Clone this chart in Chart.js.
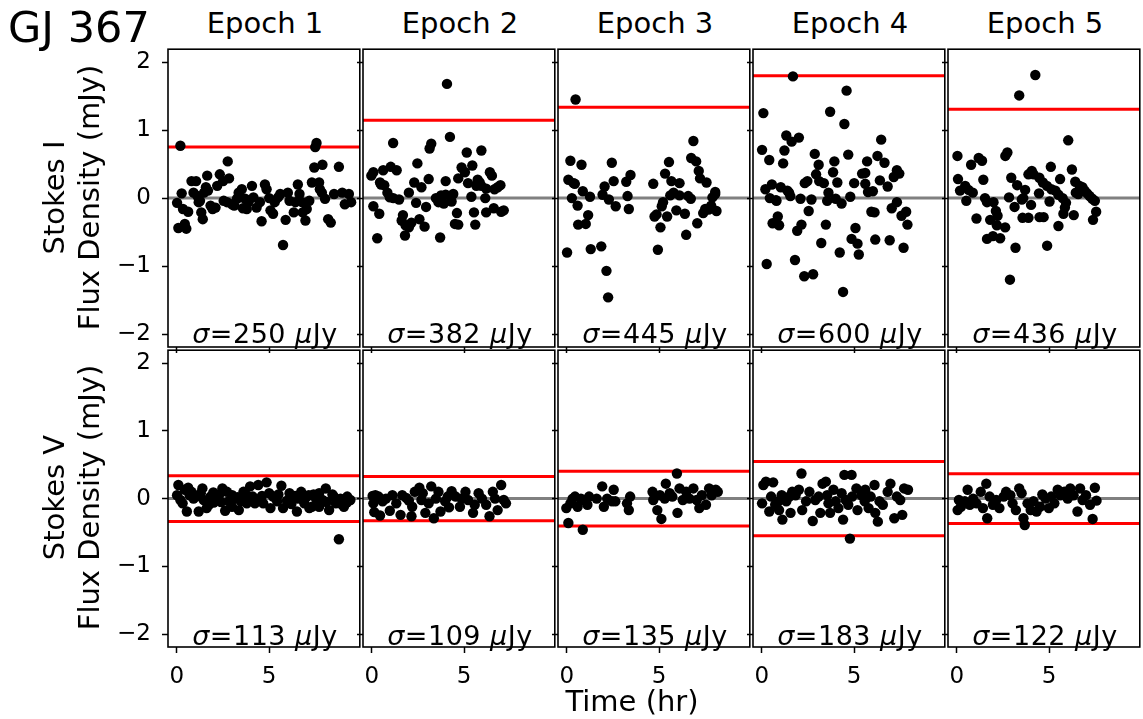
<!DOCTYPE html>
<html><head><meta charset="utf-8">
<script src="https://cdn.jsdelivr.net/npm/chart.js@4.4.0/dist/chart.umd.min.js"></script>
<style>
html,body{margin:0;padding:0;background:#fff;}
body{width:1143px;height:719px;overflow:hidden;position:relative;font-family:"DejaVu Sans";}
canvas{position:absolute;}
.t{position:absolute;white-space:nowrap;color:#000;line-height:1;font-family:"DejaVu Sans";}
.c{text-align:center;}
.rot{transform:rotate(-90deg);transform-origin:50% 50%;text-align:center;}
</style></head><body>
<script>
// ---- data ----
const epochs = ['Epoch 1','Epoch 2','Epoch 3','Epoch 4','Epoch 5'];
const sigmaI = [250, 382, 445, 600, 436];   // μJy
const sigmaV = [113, 109, 135, 183, 122];   // μJy
const limitI = [0.75, 1.146, 1.335, 1.80, 1.308];   // mJy (red line)
const limitV = [0.339, 0.327, 0.405, 0.549, 0.366]; // mJy (± red lines)
const yTicks = [-2, -1, 0, 1, 2];
const xTicks = [0, 5];
const xRange = [-0.47, 9.9];
const yRange = [-2.19, 2.19];

const e1I = [[0.20,0.77],[0.02,-0.07],[0.27,0.07],[0.09,-0.44],[0.52,-0.45],[0.44,-0.38],[0.34,-0.16],[0.62,-0.20],[0.80,0.25],[1.05,0.25],[0.91,0.08],[1.12,0.03],[1.26,-0.04],[1.19,-0.06],[1.33,-0.21],[1.41,-0.31],[1.65,0.33],[1.58,0.16],[1.69,0.11],[1.48,0.08],[1.94,-0.16],[2.10,-0.14],[2.33,0.35],[2.51,0.25],[2.76,0.54],[2.83,0.29],[2.19,0.18],[2.54,-0.04],[2.99,-0.09],[3.11,-0.11],[3.35,0.08],[3.52,0.13],[3.58,-0.15],[3.70,-0.01],[3.88,-0.06],[4.07,0.18],[4.15,0.01],[4.32,-0.14],[4.59,-0.34],[4.77,0.20],[4.86,0.13],[5.00,0.00],[5.07,-0.18],[5.21,-0.23],[5.48,0.01],[5.60,0.06],[5.75,-0.69],[5.89,-0.32],[6.01,0.08],[6.10,-0.04],[6.33,-0.21],[6.55,0.20],[6.64,0.06],[6.78,-0.06],[6.96,-0.33],[7.03,-0.16],[7.31,0.23],[7.44,0.45],[7.56,0.81],[7.49,0.75],[7.70,0.23],[7.88,0.49],[7.85,0.08],[8.02,-0.01],[8.19,-0.31],[8.33,-0.36],[8.51,0.06],[8.77,0.46],[8.95,0.08],[9.09,-0.09],[9.31,0.06],[9.43,-0.06],[1.83,-0.11],[2.72,-0.06],[3.26,-0.01],[3.79,-0.16],[4.50,-0.06],[5.30,-0.06],[6.42,-0.06],[7.17,-0.04],[6.81,-0.21],[7.74,0.13]];
const e2I = [[4.07,1.68],[4.23,0.90],[1.16,0.81],[3.22,0.80],[3.13,0.73],[5.14,0.67],[5.93,0.70],[2.47,0.51],[0.09,0.38],[-0.02,0.33],[0.62,0.41],[1.03,0.46],[1.35,0.41],[4.86,0.45],[5.04,0.38],[5.44,0.48],[6.39,0.38],[6.50,0.33],[4.68,0.29],[3.08,0.28],[4.00,0.25],[2.30,0.23],[2.69,0.16],[0.45,0.23],[0.68,0.19],[0.85,0.08],[5.21,0.22],[5.73,0.27],[5.93,0.18],[6.19,0.14],[6.64,0.13],[6.96,0.19],[2.01,0.08],[1.17,0.00],[1.48,-0.02],[5.39,0.02],[6.14,0.00],[3.47,0.00],[3.75,0.04],[4.00,0.05],[4.41,0.06],[3.61,-0.06],[3.90,-0.08],[4.32,-0.05],[2.40,-0.07],[0.09,-0.12],[0.41,-0.23],[2.94,-0.13],[4.61,-0.22],[5.53,-0.21],[6.19,-0.21],[6.60,-0.15],[7.00,-0.20],[7.14,-0.18],[1.69,-0.25],[1.62,-0.33],[1.83,-0.40],[2.15,-0.36],[2.58,-0.31],[2.86,-0.42],[4.50,-0.38],[4.68,-0.39],[5.60,-0.39],[0.30,-0.59],[1.80,-0.55],[3.70,-0.58],[6.81,0.16],[5.84,0.23],[5.66,0.18],[0.98,0.01],[0.51,0.20],[2.01,-0.43]];
const e3I = [[0.48,1.45],[6.85,0.84],[0.20,0.55],[0.80,0.49],[2.44,0.52],[6.73,0.59],[7.00,0.54],[5.53,0.53],[5.32,0.36],[7.14,0.40],[3.45,0.34],[3.22,0.24],[0.09,0.27],[0.37,0.22],[0.44,0.21],[2.54,0.25],[2.05,0.17],[4.68,0.21],[5.66,0.25],[6.10,0.22],[7.56,0.23],[7.21,0.29],[0.87,0.10],[1.26,0.02],[1.94,0.05],[3.29,0.03],[5.60,0.04],[5.78,0.08],[6.10,0.04],[6.57,0.03],[6.71,-0.01],[8.03,0.09],[7.88,0.01],[0.28,0.00],[2.28,-0.02],[0.59,-0.11],[2.65,-0.12],[3.36,-0.16],[5.14,-0.12],[5.93,-0.18],[6.39,-0.23],[7.49,-0.16],[7.67,-0.17],[8.10,-0.19],[7.38,-0.22],[4.75,-0.27],[5.43,-0.27],[1.16,-0.25],[0.62,-0.39],[1.03,-0.38],[5.07,-0.43],[7.06,-0.37],[6.46,-0.54],[0.02,-0.80],[1.30,-0.75],[1.87,-0.71],[4.93,-0.76],[2.15,-1.07],[2.24,-1.46],[4.86,-0.24],[5.21,-0.06],[7.81,-0.11],[8.03,0.06]];
const e4I = [[1.69,1.79],[4.59,1.58],[0.09,1.25],[3.70,1.27],[4.47,1.09],[1.33,0.92],[1.62,0.83],[2.01,0.89],[6.46,0.86],[0.02,0.71],[1.23,0.70],[0.41,0.56],[2.87,0.65],[4.68,0.64],[6.26,0.62],[1.16,0.51],[3.08,0.49],[3.93,0.54],[5.70,0.54],[6.64,0.52],[3.86,0.38],[2.94,0.35],[5.43,0.36],[5.60,0.37],[7.31,0.41],[7.44,0.36],[7.14,0.31],[2.47,0.25],[2.33,0.22],[3.11,0.25],[3.36,0.22],[4.09,0.23],[5.00,0.22],[5.60,0.21],[6.39,0.26],[6.81,0.17],[0.20,0.13],[0.55,0.20],[1.03,0.16],[1.39,0.11],[1.55,0.03],[3.61,0.08],[4.79,0.02],[5.75,0.09],[6.01,0.10],[0.44,0.00],[0.77,-0.03],[2.10,-0.01],[2.69,-0.02],[3.54,-0.04],[4.00,-0.01],[4.32,-0.08],[7.31,-0.06],[7.03,-0.15],[5.93,-0.20],[6.10,-0.21],[2.54,-0.19],[7.81,-0.20],[7.56,-0.26],[0.87,-0.27],[0.59,-0.37],[0.94,-0.40],[2.15,-0.39],[1.92,-0.48],[3.47,-0.39],[5.07,-0.44],[7.88,-0.39],[4.86,-0.60],[5.18,-0.67],[3.22,-0.66],[6.14,-0.61],[6.92,-0.62],[7.67,-0.73],[4.22,-0.80],[5.25,-0.83],[1.80,-0.91],[0.27,-0.97],[2.30,-1.15],[2.78,-1.12],[4.40,-1.38],[0.80,-0.04],[1.48,0.08]];
const e5I = [[4.25,1.81],[3.38,1.51],[6.03,0.85],[0.04,0.62],[2.63,0.62],[2.74,0.67],[0.78,0.49],[1.19,0.59],[1.37,0.55],[5.09,0.46],[6.23,0.42],[4.06,0.40],[4.16,0.35],[0.07,0.28],[0.18,0.11],[0.46,0.18],[0.64,0.12],[0.87,0.08],[1.44,0.27],[2.95,0.30],[3.27,0.19],[3.88,0.35],[4.47,0.30],[4.66,0.23],[5.59,0.28],[4.88,0.18],[5.12,0.13],[5.34,0.11],[5.50,0.05],[5.73,0.00],[6.41,0.24],[6.65,0.18],[6.80,0.16],[6.92,0.11],[7.05,0.07],[7.19,0.03],[7.33,-0.01],[7.47,-0.04],[6.57,0.06],[6.44,0.08],[3.70,0.12],[4.45,0.07],[2.83,0.01],[3.60,0.00],[1.53,0.00],[0.52,-0.04],[1.99,-0.06],[1.64,-0.06],[3.52,-0.02],[5.02,-0.05],[5.91,-0.07],[4.02,-0.10],[3.13,-0.13],[5.85,-0.14],[7.54,-0.20],[2.12,-0.19],[6.33,-0.25],[5.77,-0.23],[7.37,-0.32],[1.07,-0.30],[1.81,-0.32],[3.56,-0.29],[3.88,-0.29],[4.48,-0.28],[4.70,-0.28],[2.17,-0.40],[2.62,-0.43],[5.50,-0.41],[1.64,-0.60],[1.96,-0.56],[2.35,-0.59],[3.18,-0.73],[4.89,-0.70],[2.88,-1.20],[2.21,-0.26]];

const e1V = [[0.09,0.20],[0.02,0.05],[0.20,-0.02],[0.32,-0.07],[0.55,-0.19],[0.62,0.16],[0.80,0.10],[0.91,0.00],[1.05,0.03],[1.19,-0.19],[1.39,0.15],[1.46,-0.02],[1.62,-0.14],[1.74,-0.09],[1.98,0.09],[2.12,0.01],[2.47,0.15],[2.40,-0.05],[2.62,-0.18],[2.81,-0.04],[2.99,-0.12],[3.17,0.00],[3.36,-0.17],[3.47,-0.04],[3.61,0.10],[3.79,0.05],[3.97,0.18],[4.11,0.03],[4.23,-0.07],[4.41,0.20],[4.61,0.04],[4.86,0.24],[5.07,-0.14],[5.21,0.03],[5.43,-0.04],[5.66,0.19],[5.75,-0.14],[5.96,-0.03],[6.10,0.08],[6.50,-0.19],[6.55,0.00],[6.73,0.10],[6.90,-0.07],[7.14,0.05],[7.31,-0.12],[7.53,0.00],[7.70,0.08],[7.88,-0.02],[8.06,0.15],[8.24,-0.17],[8.42,0.06],[8.60,-0.07],[8.77,-0.60],[8.86,0.00],[9.04,-0.02],[9.22,0.03],[9.39,-0.02],[0.44,0.13],[1.83,0.03],[2.72,0.10],[3.79,-0.07],[4.68,-0.07],[7.17,-0.14],[7.70,-0.12],[9.04,-0.12],[0.70,0.05],[1.30,0.08],[2.00,-0.06],[2.30,0.06],[3.00,0.05],[3.30,0.02],[3.90,-0.03],[4.40,-0.02],[5.00,0.08],[5.50,0.06],[6.20,-0.08],[6.40,0.04],[7.00,0.02],[7.40,0.06],[8.10,-0.05],[8.50,0.03],[8.90,-0.08],[9.20,-0.06]];
const e2V = [[0.05,0.04],[0.20,0.05],[0.09,-0.07],[0.14,-0.20],[0.45,-0.25],[0.37,0.03],[0.59,-0.04],[0.77,0.00],[0.98,-0.18],[1.12,0.05],[1.33,-0.07],[1.56,-0.24],[1.65,0.05],[1.87,0.01],[2.15,-0.26],[2.19,-0.12],[2.33,0.10],[2.58,0.16],[2.69,-0.02],[2.90,-0.21],[3.08,-0.07],[3.22,0.18],[3.36,-0.29],[3.47,0.00],[3.61,0.10],[3.72,-0.19],[3.97,-0.04],[4.18,-0.13],[4.32,0.11],[4.54,0.03],[4.77,-0.12],[4.86,0.00],[5.07,0.10],[5.21,-0.02],[5.48,-0.21],[5.57,-0.09],[5.78,0.08],[5.96,0.00],[6.19,-0.09],[6.37,-0.26],[6.55,0.10],[6.67,0.00],[6.81,-0.17],[7.00,0.20],[7.14,-0.02],[7.26,-0.07],[2.01,-0.03],[2.76,0.08],[4.11,0.03]];
const e3V = [[5.96,0.37],[1.92,0.18],[5.36,0.22],[-0.02,-0.14],[0.09,-0.36],[0.20,-0.07],[0.32,0.00],[0.45,0.03],[0.59,-0.12],[0.77,0.00],[0.87,-0.46],[0.98,-0.03],[1.12,-0.09],[1.21,0.03],[2.01,-0.12],[2.19,0.00],[2.54,0.13],[2.63,-0.04],[3.36,-0.17],[3.43,0.03],[3.26,-0.07],[4.64,0.10],[4.68,-0.02],[4.90,-0.17],[5.12,-0.30],[5.04,0.05],[5.30,0.00],[5.57,0.08],[5.71,0.03],[5.99,-0.21],[6.10,0.15],[6.28,-0.02],[6.46,0.10],[6.64,0.00],[6.85,0.15],[7.03,-0.02],[7.17,-0.14],[7.31,0.05],[7.53,-0.09],[7.70,0.15],[7.84,0.05],[8.06,0.13],[8.17,0.10],[1.62,0.00],[2.45,-0.04]];
const e4V = [[2.15,0.37],[4.47,0.35],[4.86,0.35],[4.77,-0.59],[0.09,0.20],[0.23,0.25],[0.62,0.24],[0.02,-0.07],[0.41,-0.19],[0.51,0.03],[0.73,-0.09],[0.94,-0.17],[1.08,0.05],[1.12,-0.31],[1.33,-0.04],[1.56,-0.21],[1.65,0.10],[1.83,0.05],[2.01,0.13],[2.19,-0.17],[2.40,-0.04],[2.58,0.10],[2.76,-0.33],[2.90,-0.02],[3.08,0.03],[3.17,-0.21],[3.29,0.22],[3.47,0.25],[3.54,0.05],[3.70,-0.21],[3.88,0.13],[4.00,-0.04],[4.15,-0.14],[4.32,0.08],[4.40,-0.31],[4.54,-0.02],[4.68,-0.09],[4.89,0.03],[5.12,0.15],[5.18,-0.17],[5.39,0.05],[5.60,0.13],[5.78,-0.14],[5.89,0.03],[6.10,0.20],[6.14,-0.21],[6.28,-0.34],[6.37,-0.04],[6.55,-0.09],[6.81,0.10],[6.96,0.22],[7.17,-0.29],[7.31,0.03],[7.49,-0.02],[7.60,-0.24],[7.70,0.15],[7.91,0.13],[0.91,-0.04],[1.49,0.03],[3.61,-0.07],[5.57,-0.04]];
const e5V = [[1.60,0.22],[0.59,0.13],[0.12,-0.02],[0.05,-0.17],[0.23,-0.12],[0.44,-0.04],[0.71,-0.09],[0.89,0.00],[1.07,-0.07],[1.30,0.10],[1.42,-0.14],[1.65,-0.29],[1.78,0.03],[1.96,-0.09],[2.14,-0.02],[2.31,-0.14],[2.54,0.03],[2.67,0.10],[2.90,0.05],[3.02,-0.07],[3.20,-0.17],[3.38,0.15],[3.51,0.08],[3.61,-0.29],[3.68,-0.39],[3.83,-0.07],[4.00,-0.17],[4.15,-0.04],[4.32,-0.19],[4.50,-0.12],[4.63,0.06],[4.80,0.00],[4.98,-0.14],[5.11,0.03],[5.28,-0.07],[5.46,0.13],[5.60,0.05],[5.82,0.10],[6.00,0.00],[6.14,0.15],[6.32,0.05],[6.53,-0.19],[6.67,0.15],[6.81,-0.02],[6.99,0.05],[7.21,-0.09],[7.35,-0.30],[7.47,0.16],[7.56,-0.03]];

const dataI = [e1I, e2I, e3I, e4I, e5I];
const dataV = [e1V, e2V, e3V, e4V, e5V];

// ---- layout ----
const FONT = 'DejaVu Sans';
const panelLeft = [168, 363, 558, 753, 948];
const panelW = 194;
const rowTop = [47, 348];
const rowH = [300, 299];

function fmt(v){ return v < 0 ? '\u2212' + Math.abs(v) : String(v); }

const framePlugin = {
  id: 'frame',
  afterDraw(chart){
    const {ctx, chartArea: a} = chart;
    ctx.save();
    ctx.strokeStyle = '#000';
    ctx.lineWidth = 1.6;
    ctx.strokeRect(a.left, a.top, a.right - a.left, a.bottom - a.top);
    ctx.restore();
  }
};

function addText(html, style, cls){
  const d = document.createElement('div');
  d.className = 't ' + (cls || '');
  d.innerHTML = html;
  d.setAttribute('style', style);
  document.body.appendChild(d);
  return d;
}

function makePanel(row, col){
  const padL = col === 0 ? panelLeft[0] : 12;
  const padR = 3, padT = 3;
  const padB = row === 1 ? 50 : 12;
  const W = panelW + padL + padR;
  const H = rowH[row] + padT + padB;
  const cv = document.createElement('canvas');
  cv.width = W; cv.height = H;
  cv.style.left = (panelLeft[col] - padL) + 'px';
  cv.style.top = (rowTop[row] - padT) + 'px';
  cv.style.width = W + 'px'; cv.style.height = H + 'px';
  document.body.appendChild(cv);

  const pts = (row === 0 ? dataI : dataV)[col];
  const lim = (row === 0 ? limitI : limitV)[col];
  const datasets = [
    { data: pts.map(p => ({x: p[0], y: p[1]})), backgroundColor: '#000', borderColor: '#000',
      borderWidth: 0, pointRadius: 5.2, pointHoverRadius: 5.2, order: 0, clip: 0 },
    { data: [{x: xRange[0], y: 0}, {x: xRange[1], y: 0}], showLine: true, borderColor: '#808080',
      borderWidth: 3, pointRadius: 0, order: 2, clip: 0 },
    { data: [{x: xRange[0], y: lim}, {x: xRange[1], y: lim}], showLine: true, borderColor: '#ff0000',
      borderWidth: 3, pointRadius: 0, order: 1, clip: 0 }
  ];
  if (row === 1) {
    datasets.push({ data: [{x: xRange[0], y: -lim}, {x: xRange[1], y: -lim}], showLine: true,
      borderColor: '#ff0000', borderWidth: 3, pointRadius: 0, order: 1, clip: 0 });
  }

  new Chart(cv, {
    type: 'scatter',
    data: { datasets },
    plugins: [framePlugin],
    options: {
      responsive: false, animation: false, devicePixelRatio: 1, events: [],
      layout: { padding: { left: 0, top: padT, right: padR, bottom: 0 } },
      plugins: { legend: { display: false }, tooltip: { enabled: false } },
      scales: {
        x: {
          type: 'linear', min: xRange[0], max: xRange[1],
          afterFit(s){ s.height = padB; s.paddingLeft = 0; s.paddingRight = 0; s.paddingTop = 0; s.paddingBottom = 0; },
          afterBuildTicks(s){ s.ticks = xTicks.map(v => ({value: v})); },
          ticks: { display: row === 1, maxRotation: 0, autoSkip: false, padding: 10, color: '#000',
                   font: { family: FONT, size: 23 }, callback: v => fmt(v) },
          grid: { drawOnChartArea: false, drawTicks: true, tickLength: 6, tickWidth: 1.5, tickColor: '#000' },
          border: { display: false }
        },
        y: {
          type: 'linear', min: yRange[0], max: yRange[1],
          afterFit(s){ s.width = padL; s.paddingTop = 0; s.paddingBottom = 0; s.paddingLeft = 0; s.paddingRight = 0; },
          afterBuildTicks(s){ s.ticks = yTicks.map(v => ({value: v})); },
          ticks: { display: col === 0, padding: 11, color: '#000',
                   font: { family: FONT, size: 23 }, callback: v => fmt(v) },
          grid: { drawOnChartArea: false, drawTicks: true, tickLength: 6, tickWidth: 1.5, tickColor: '#000' },
          border: { display: false }
        }
      }
    }
  });

  const sig = (row === 0 ? sigmaI : sigmaV)[col];
  const cx = panelLeft[col] + panelW / 2;
  const base = row === 0 ? 343 : 645;
  addText('<i>σ</i>=' + sig + ' <i>μ</i>Jy',
    'left:' + (cx - 100) + 'px;width:200px;top:' + (base - 0.846 * 27) + 'px;font-size:27px;letter-spacing:0.5px;', 'c');
}

for (let r = 0; r < 2; r++) for (let c = 0; c < 5; c++) makePanel(r, c);

// titles
addText('GJ 367', 'left:8px;top:5.6px;font-size:43px;');
epochs.forEach((e, i) => {
  const cx = panelLeft[i] + panelW / 2;
  addText(e, 'left:' + (cx - 100) + 'px;width:200px;top:' + (34 - 0.846 * 29) + 'px;font-size:29px;', 'c');
});
// y labels
const yLab = [['Stokes I', 'Flux Density (mJy)'], ['Stokes V', 'Flux Density (mJy)']];
const rowC = [197, 497.5];
yLab.forEach((lines, r) => {
  [54, 89].forEach((x, k) => {
    addText(lines[k], 'left:' + (x - 200) + 'px;width:400px;height:29px;top:' + (rowC[r] - 14.5) + 'px;font-size:29px;', 'rot');
  });
});
addText('Time (hr)', 'left:' + (632 - 100) + 'px;width:200px;top:' + (711.5 - 0.846 * 29) + 'px;font-size:29px;', 'c');
</script>
</body></html>
